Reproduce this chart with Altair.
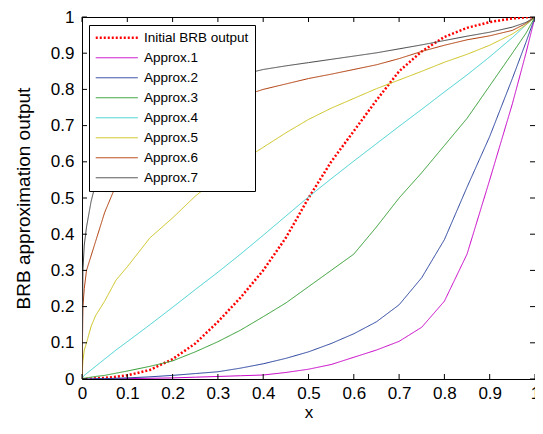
import altair as alt
import pandas as pd

# ---------------- data ----------------
X = [0, 0.002, 0.005, 0.01, 0.02, 0.03, 0.05, 0.075, 0.1,
     0.15, 0.2, 0.25, 0.3, 0.35, 0.4, 0.45, 0.5, 0.55, 0.6,
     0.65, 0.7, 0.75, 0.8, 0.85, 0.9, 0.95, 0.98, 1.0]

names = ["Initial BRB output", "Approx.1", "Approx.2", "Approx.3",
         "Approx.4", "Approx.5", "Approx.6", "Approx.7"]

initial = [0, 0, 0, 0, 0.001, 0.002, 0.003, 0.006, 0.01,
           0.025, 0.055, 0.098, 0.158, 0.225, 0.30, 0.39, 0.50, 0.60, 0.685,
           0.77, 0.85, 0.905, 0.945, 0.97, 0.986, 0.996, 0.999, 1]
approx1 = [0, 0, 0, 0, 0, 0, 0, 0, 0.001,
           0.002, 0.003, 0.005, 0.007, 0.009, 0.011, 0.018, 0.027, 0.04, 0.06,
           0.08, 0.104, 0.143, 0.215, 0.345, 0.55, 0.76, 0.90, 1]
approx2 = [0, 0, 0, 0, 0, 0.001, 0.001, 0.002, 0.003,
           0.006, 0.01, 0.015, 0.02, 0.03, 0.042, 0.057, 0.075, 0.098, 0.125,
           0.158, 0.205, 0.28, 0.385, 0.53, 0.67, 0.83, 0.93, 1]
approx3 = [0, 0, 0.002, 0.003, 0.005, 0.007, 0.01, 0.016, 0.022,
           0.035, 0.05, 0.075, 0.103, 0.135, 0.172, 0.21, 0.255, 0.30, 0.345,
           0.42, 0.50, 0.57, 0.645, 0.72, 0.81, 0.90, 0.955, 1]
approx4 = [0, 0.005, 0.01, 0.015, 0.025, 0.035, 0.055, 0.08, 0.103,
           0.15, 0.198, 0.247, 0.295, 0.345, 0.397, 0.45, 0.503, 0.553, 0.602,
           0.65, 0.698, 0.745, 0.793, 0.84, 0.89, 0.943, 0.978, 1]
approx5 = [0, 0.05, 0.08, 0.10, 0.145, 0.175, 0.215, 0.273, 0.31,
           0.39, 0.445, 0.505, 0.555, 0.60, 0.64, 0.68, 0.717, 0.748, 0.775,
           0.802, 0.826, 0.85, 0.875, 0.897, 0.922, 0.953, 0.978, 1]
approx6 = [0, 0.20, 0.25, 0.30, 0.34, 0.38, 0.46, 0.535, 0.58,
           0.64, 0.68, 0.72, 0.755, 0.78, 0.80, 0.815, 0.83, 0.842, 0.855,
           0.868, 0.885, 0.905, 0.922, 0.937, 0.948, 0.963, 0.982, 1]
approx7 = [0, 0.30, 0.37, 0.42, 0.49, 0.54, 0.60, 0.65, 0.68,
           0.73, 0.765, 0.79, 0.815, 0.84, 0.855, 0.865, 0.874, 0.883, 0.892,
           0.901, 0.912, 0.923, 0.935, 0.947, 0.958, 0.972, 0.985, 1]

series_values = [initial, approx1, approx2, approx3,
                 approx4, approx5, approx6, approx7]

tick_values = [0, 0.1, 0.2, 0.3, 0.4, 0.5, 0.6, 0.7, 0.8, 0.9, 1]

# ---------------- styles ----------------
colors = ["#FF0000", "#C800C8", "#26409C", "#2E9B2E",
          "#3DD0D0", "#CCC21A", "#B03A06", "#454545"]
dashes = [[2, 2]] + [[1, 0]] * 7
widths = [2.5] + [1] * 7
FONT = "Liberation Sans"
W, H = 453, 362

rows = []
for name, vals in zip(names, series_values):
    for xv, yv in zip(X, vals):
        rows.append({"x": xv, "y": yv, "series": name})
df = pd.DataFrame(rows)
tick_df = pd.DataFrame({"t": tick_values})

xs = alt.Scale(domain=[0, 1], nice=False, zero=False)
ys = alt.Scale(domain=[0, 1], nice=False, zero=False)

x_axis = alt.Axis(values=tick_values, format="~g", title="x", ticks=False,
                  domain=False, grid=False, labelFont=FONT, labelFontSize=17,
                  labelColor="black", labelPadding=6, labelOverlap=False,
                  labelFlush=False, titleFont=FONT, titleFontSize=17,
                  titleFontWeight="normal", titleColor="black",
                  titleBaseline="bottom", titleY=42.5)
y_axis = alt.Axis(values=tick_values, format="~g",
                  title="BRB approximation output", ticks=False, domain=False,
                  grid=False, labelFont=FONT, labelFontSize=17,
                  labelColor="black", labelPadding=8, labelOverlap=False,
                  labelFlush=False, titleFont=FONT, titleFontSize=19,
                  titleFontWeight="normal", titleColor="black", titlePadding=17)

leg = alt.Legend(title=None, orient="none", legendX=7, legendY=8,
                 fillColor="white", strokeColor="black", padding=6,
                 labelFont=FONT, labelFontSize=13.5, labelColor="black",
                 labelLimit=0, symbolType="M-4.2,0H4.2", symbolSize=100,
                 symbolOffset=15, labelOffset=20.5, rowPadding=5)

lines = alt.Chart(df).mark_line(clip=True).encode(
    x=alt.X("x:Q", scale=xs, axis=x_axis),
    y=alt.Y("y:Q", scale=ys, axis=y_axis),
    color=alt.Color("series:N", scale=alt.Scale(domain=names, range=colors),
                    legend=leg),
    strokeDash=alt.StrokeDash("series:N",
                              scale=alt.Scale(domain=names, range=dashes),
                              legend=leg),
    strokeWidth=alt.StrokeWidth("series:N",
                                scale=alt.Scale(type="ordinal", domain=names,
                                                range=widths),
                                legend=leg),
)

tk = dict(color="black", strokeWidth=1)
bottom = alt.Chart(tick_df).mark_rule(**tk).encode(
    x=alt.X("t:Q", scale=xs, axis=x_axis), y=alt.value(H), y2=alt.value(H - 5))
top = alt.Chart(tick_df).mark_rule(**tk).encode(
    x=alt.X("t:Q", scale=xs, axis=x_axis), y=alt.value(0), y2=alt.value(5))
left = alt.Chart(tick_df).mark_rule(**tk).encode(
    y=alt.Y("t:Q", scale=ys, axis=y_axis), x=alt.value(0), x2=alt.value(5))
right = alt.Chart(tick_df).mark_rule(**tk).encode(
    y=alt.Y("t:Q", scale=ys, axis=y_axis), x=alt.value(W), x2=alt.value(W - 5))

chart = alt.layer(lines, bottom, top, left, right).properties(
    width=W, height=H,
    autosize=alt.AutoSizeParams(type="none"),
    padding={"left": 74, "top": 9, "right": 0, "bottom": 43},
).configure_view(stroke="black", strokeWidth=1)

chart.save("out.html", embed_options={"renderer": "svg", "actions": False})
